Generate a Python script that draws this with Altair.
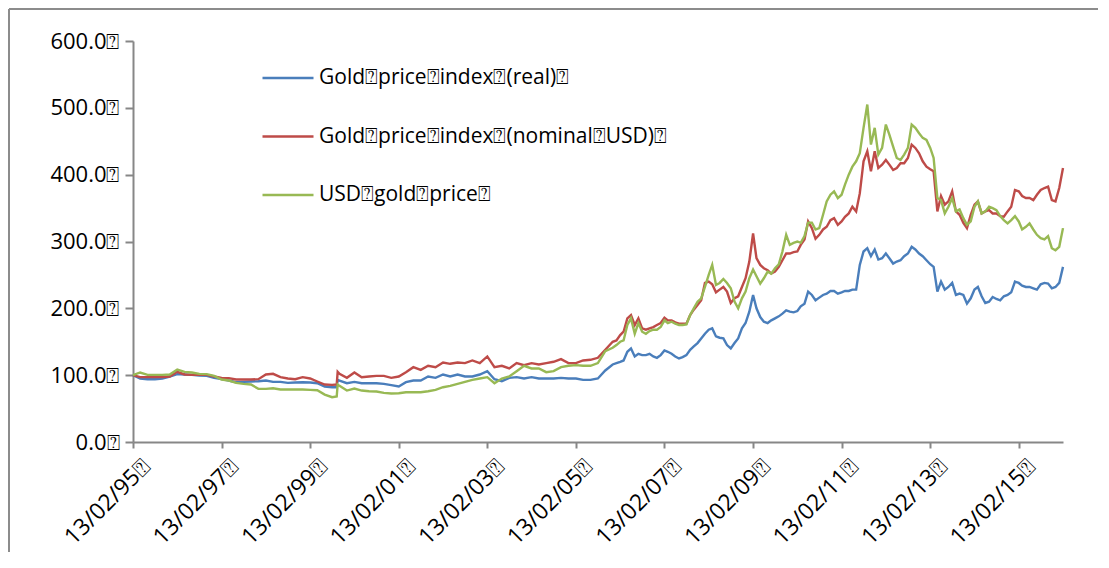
import altair as alt
import pandas as pd

# ---- data ----
dates = [
    "1995-02-13", "1995-04-13", "1995-06-13", "1995-08-13", "1995-10-13", "1995-12-13",
    "1996-02-13", "1996-04-13", "1996-06-13", "1996-08-13", "1996-10-13", "1996-12-13",
    "1997-02-13", "1997-04-13", "1997-06-13", "1997-08-13", "1997-10-13", "1997-12-13",
    "1998-02-13", "1998-04-13", "1998-06-13", "1998-08-13", "1998-10-13", "1998-12-13",
    "1999-02-13", "1999-04-13", "1999-06-13", "1999-08-13", "1999-09-20", "1999-09-28", "1999-10-13", "1999-12-13",
    "2000-02-13", "2000-04-13", "2000-06-13", "2000-08-13", "2000-10-13", "2000-12-13",
    "2001-02-13", "2001-04-13", "2001-06-13", "2001-08-13", "2001-10-13", "2001-12-13",
    "2002-02-13", "2002-04-13", "2002-06-13", "2002-08-13", "2002-10-13", "2002-12-13",
    "2003-02-13", "2003-04-13", "2003-06-13", "2003-08-13", "2003-10-13", "2003-12-13",
    "2004-02-13", "2004-04-13", "2004-06-13", "2004-08-13", "2004-10-13", "2004-12-13",
    "2005-02-13", "2005-04-13", "2005-06-13", "2005-08-13", "2005-10-13", "2005-12-13",
    "2006-01-13", "2006-02-13", "2006-03-13", "2006-04-13", "2006-05-13", "2006-06-13",
    "2006-07-13", "2006-08-13", "2006-09-13", "2006-10-13", "2006-11-13", "2006-12-13",
    "2007-01-13", "2007-02-13", "2007-03-13", "2007-04-13", "2007-05-13", "2007-06-13",
    "2007-07-13", "2007-08-13", "2007-09-13", "2007-10-13", "2007-11-13", "2007-12-13",
    "2008-01-13", "2008-02-13", "2008-03-13", "2008-04-13", "2008-05-13", "2008-06-13",
    "2008-07-13", "2008-08-13", "2008-09-13", "2008-10-13", "2008-11-13", "2008-12-13",
    "2009-01-13", "2009-02-13", "2009-03-13", "2009-04-13", "2009-05-13", "2009-06-13",
    "2009-07-13", "2009-08-13", "2009-09-13", "2009-10-13", "2009-11-13", "2009-12-13",
    "2010-01-13", "2010-02-13", "2010-03-13", "2010-04-13", "2010-05-13", "2010-06-13",
    "2010-07-13", "2010-08-13", "2010-09-13", "2010-10-13", "2010-11-13", "2010-12-13",
    "2011-01-13", "2011-02-13", "2011-03-13", "2011-04-13", "2011-05-13", "2011-06-13",
    "2011-07-13", "2011-08-13", "2011-09-13", "2011-10-13", "2011-11-13", "2011-12-13",
    "2012-01-13", "2012-02-13", "2012-03-13", "2012-04-13", "2012-05-13", "2012-06-13",
    "2012-07-13", "2012-08-13", "2012-09-13", "2012-10-13", "2012-11-13", "2012-12-13",
    "2013-01-13", "2013-02-13", "2013-03-13", "2013-04-13", "2013-05-13", "2013-06-13",
    "2013-07-13", "2013-08-13", "2013-09-13", "2013-10-13", "2013-11-13", "2013-12-13",
    "2014-01-13", "2014-02-13", "2014-03-13", "2014-04-13", "2014-05-13", "2014-06-13",
    "2014-07-13", "2014-08-13", "2014-09-13", "2014-10-13", "2014-11-13", "2014-12-13",
    "2015-01-13", "2015-02-13", "2015-03-13", "2015-04-13", "2015-05-13", "2015-06-13",
    "2015-07-13", "2015-08-13", "2015-09-13", "2015-10-13", "2015-11-13", "2015-12-13",
    "2016-01-13", "2016-02-13",
]

real_index = [
    100, 95, 94, 94, 95, 98,
    101.5, 101, 100.5, 99.5, 99, 96,
    94, 92, 89.5, 90, 90.5, 91,
    92, 90, 90, 88.5, 89, 89.5,
    89, 88, 83, 82, 82, 93, 92, 88,
    90, 88, 88, 88, 87, 85,
    83, 89.5, 92, 92, 98, 96,
    101, 98, 101, 98, 98, 101,
    106, 94, 91, 96, 97, 95,
    97, 95, 95, 95, 96, 95,
    95, 93, 93, 95, 107, 116,
    118, 120, 122, 135, 140, 128, 132, 130, 130, 132, 128, 126,
    130, 137, 135, 132, 128, 125, 127, 130, 138, 143, 148, 155,
    162, 168, 170, 158, 156, 155, 145, 140, 148, 155, 170, 178,
    195, 220, 200, 187, 180, 178, 182, 185, 188, 192, 197, 195,
    194, 196, 203, 207, 225, 220, 212, 216, 220, 222, 226, 226,
    222, 224, 226, 226, 228, 228, 265, 285, 290, 278, 288, 273,
    275, 282, 275, 267, 270, 272, 278, 282, 292, 288, 282, 278,
    272, 266, 262, 225, 240, 228, 232, 238, 220, 222, 220, 207,
    215, 228, 232, 218, 208, 210, 217, 214, 212, 218, 220, 224,
    240, 238, 234, 232, 232, 230, 228, 236, 238, 237, 230, 232,
    238, 262,
]

nominal_index = [
    100, 97, 97, 97, 97, 98,
    105, 101, 100.5, 100.5, 100.5, 98,
    96, 95.5, 93.5, 93.5, 93.5, 94,
    101, 102, 97, 95, 94, 97,
    95, 90.5, 86, 85.5, 86, 105, 102, 96,
    104, 97, 98, 99, 99, 96,
    98, 104.5, 112, 108, 114, 112,
    119, 117, 119, 118, 122, 118,
    128, 112, 114, 110, 118, 115,
    118, 116, 118, 120, 124, 118,
    118, 122, 123, 126, 138, 150,
    152, 160, 165, 185, 190, 175, 185, 170, 168, 170, 172, 175,
    178, 186, 182, 182, 179, 177, 177, 177, 190, 198, 205, 212,
    238, 240, 236, 224, 228, 232, 225, 208, 215, 218, 232, 245,
    270, 312, 275, 265, 260, 257, 252, 255, 262, 272, 282, 282,
    284, 285, 295, 303, 330, 320, 304, 310, 318, 322, 332, 335,
    325, 330, 337, 342, 352, 345, 372, 420, 435, 405, 435, 410,
    415, 422, 415, 407, 410, 417, 417, 425, 445, 440, 432, 420,
    412, 408, 405, 345, 368, 355, 360, 375, 345, 340, 328, 320,
    340, 355, 360, 342, 345, 347, 342, 342, 338, 337, 345, 352,
    377, 375, 368, 365, 365, 362, 370, 377, 380, 382, 362, 360,
    380, 410,
]

usd_gold_price = [
    100, 104, 100.5, 100.5, 100.5, 101,
    108.5, 105, 104, 102, 101.5, 99,
    93.5, 92, 88.5, 87, 86, 79.5,
    79.5, 80.5, 78.5, 78.5, 78.5, 78.5,
    78, 77.5, 71, 67, 68, 86, 84, 77,
    80, 77, 76, 75.5, 73.5, 72.5,
    73, 74.5, 74.5, 74.5, 76, 78,
    82, 84, 87, 90, 93, 95,
    97, 88, 95, 98, 106, 114,
    110, 110, 104.5, 106, 112, 114,
    115, 114, 114, 118, 136, 141,
    145, 150, 152, 175, 185, 162, 178, 165, 162, 166, 168, 168,
    172, 182, 178, 180, 177, 175, 175, 176, 190, 200, 210, 215,
    232, 250, 265, 235, 238, 244, 238, 230, 210, 200, 215, 225,
    245, 258, 248, 237, 245, 255, 252, 260, 266, 285, 310, 295,
    298, 300, 298, 308, 328, 328, 318, 320, 340, 360, 370, 375,
    365, 370, 385, 400, 412, 420, 432, 470, 505, 445, 470, 430,
    440, 475, 460, 442, 425, 422, 430, 440, 475, 470, 462, 455,
    452, 440, 425, 365, 362, 342, 352, 365, 345, 348, 335, 325,
    330, 352, 360, 342, 345, 352, 350, 347, 338, 332, 327, 332,
    338, 330, 318, 322, 327, 318, 310, 305, 303, 308, 290, 287,
    292, 320,
]

assert len(dates) == len(real_index) == len(nominal_index) == len(usd_gold_price)

BOX = "\u2370"
series_names = [
    f"Gold{BOX}price{BOX}index{BOX}(real){BOX}",
    f"Gold{BOX}price{BOX}index{BOX}(nominal{BOX}USD){BOX}",
    f"USD{BOX}gold{BOX}price{BOX}",
]
series_colors = ["#4A7EBB", "#BE4B48", "#98B954"]
y_ticks = [0, 100, 200, 300, 400, 500, 600]
x_tick_years = [1995, 1997, 1999, 2001, 2003, 2005, 2007, 2009, 2011, 2013, 2015]

rows = []
for d, r, n, u in zip(dates, real_index, nominal_index, usd_gold_price):
    rows.append({"date": d, "series": series_names[0], "value": r})
    rows.append({"date": d, "series": series_names[1], "value": n})
    rows.append({"date": d, "series": series_names[2], "value": u})
df = pd.DataFrame(rows)

FONT = "Open Sans"
AXIS_GRAY = "#878787"
FRAME_GRAY = "#8C8C8C"

W, H = 930, 401
PAD = {"left": 125, "top": 33, "right": 35, "bottom": 110}

x_axis = alt.Axis(
    values=[alt.DateTime(year=y, month=2, date=13, utc=True) for y in x_tick_years],
    labelExpr=f"utcFormat(datum.value, '%d/%m/%y') + '{BOX}'",
    labelAngle=-45, labelAlign="right", labelBaseline="middle",
    labelFont=FONT, labelFontSize=23, labelColor="black",
    labelPadding=15, labelOffset=13, labelOverlap=False, labelFlush=False,
    tickSize=6, tickWidth=2, tickColor=AXIS_GRAY,
    domainColor=AXIS_GRAY, domainWidth=2, grid=False, title=None,
)
y_axis = alt.Axis(
    values=y_ticks,
    labelExpr=f"format(datum.value, '.1f') + '{BOX}'",
    labelFont=FONT, labelFontSize=22, labelColor="black", labelPadding=6,
    tickSize=8, tickWidth=2, tickColor=AXIS_GRAY,
    domainColor=AXIS_GRAY, domainWidth=2, grid=False, title=None,
)

lines = alt.Chart(df).mark_line(strokeWidth=2.4).encode(
    x=alt.X("date:T", axis=x_axis,
            scale=alt.Scale(type="utc", nice=False,
                            domain=[alt.DateTime(year=1995, month=2, date=13, utc=True),
                                    alt.DateTime(year=2016, month=2, date=13, utc=True)])),
    y=alt.Y("value:Q", axis=y_axis, scale=alt.Scale(domain=[0, 600], nice=False)),
    color=alt.Color(
        "series:N", sort=series_names,
        scale=alt.Scale(domain=series_names, range=series_colors),
        legend=alt.Legend(
            title=None, orient="none", legendX=128, legendY=10,
            symbolType="stroke", symbolSize=2601, symbolStrokeWidth=2.5,
            labelFont=FONT, labelFontSize=21, labelColor="black",
            labelOffset=4, rowPadding=21.5, padding=0, labelLimit=600,
        ),
    ),
)

frame_df = pd.DataFrame({"k": [0]})
frame_top = alt.Chart(frame_df).mark_rule(color=FRAME_GRAY, strokeWidth=2).encode(
    x=alt.value(-124), x2=alt.value(W + PAD["right"]), y=alt.value(-32)
)
frame_left = alt.Chart(frame_df).mark_rule(color=FRAME_GRAY, strokeWidth=2).encode(
    x=alt.value(-124), y=alt.value(-32), y2=alt.value(H + PAD["bottom"])
)

chart = alt.layer(frame_top, frame_left, lines).properties(
    width=W, height=H,
    autosize=alt.AutoSizeParams(type="none"),
    padding=PAD,
    background="white",
).configure_view(stroke=None)

chart.save("out.html", embed_options={"renderer": "svg", "actions": False})
